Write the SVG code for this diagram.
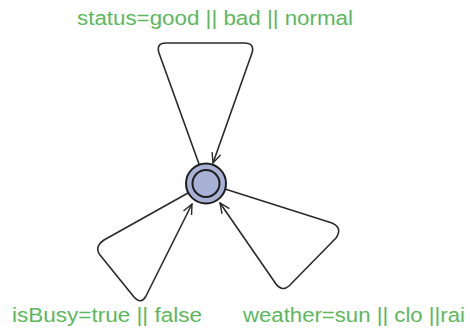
<svg xmlns="http://www.w3.org/2000/svg" width="470" height="330" viewBox="0 0 470 330">
<defs>
<style>
.edge{fill:none;stroke:#2a2a2a;stroke-width:1.6;stroke-linejoin:round;marker-end:url(#arr)}
.lbl{font-family:"Liberation Sans",Arial,sans-serif;font-size:20px;fill:#5cb85c}
.outer{fill:#a7b2d6;stroke:#1e1e1e;stroke-width:2}
.inner{fill:none;stroke:#1e1e1e;stroke-width:2}
</style>
<marker id="arr" viewBox="0 0 12 12" refX="11" refY="6" markerWidth="12" markerHeight="12" markerUnits="userSpaceOnUse" orient="auto">
<path d="M1,1.5 L11,6 L1,10.5" fill="none" stroke="#2a2a2a" stroke-width="1.4"/>
</marker>
</defs>
<rect width="470" height="330" fill="#ffffff"/>
<g id="connectors">
<path class="edge" d="M199,164 L159,53 Q156,43 166,43 L244,43 Q255,43 252,53 L213,163"/>
<path class="edge" d="M188,193 L104,240 Q94,247 100,255 L134,297 Q141,305 146,296 L192,204"/>
<path class="edge" d="M225,189 L332,223 Q343,228 336,238 L289,286 Q282,292 276,284 L220,203"/>
</g>
<g id="node">
<circle class="outer" cx="206" cy="183.5" r="20"/>
<circle class="inner" cx="206" cy="183.5" r="13.5"/>
</g>
<g id="labels">
<text class="lbl" x="77" y="25" textLength="276" lengthAdjust="spacingAndGlyphs">status=good || bad || normal</text>
<text class="lbl" x="12" y="322" textLength="190" lengthAdjust="spacingAndGlyphs">isBusy=true || false</text>
<text class="lbl" x="243" y="322" textLength="222" lengthAdjust="spacingAndGlyphs">weather=sun || clo ||rai</text>
</g>
</svg>
